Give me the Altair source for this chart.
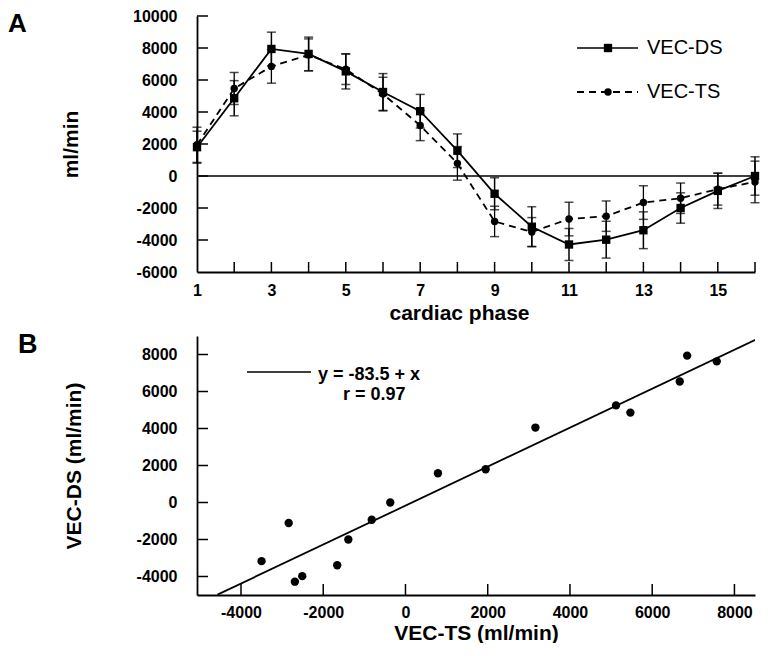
import altair as alt
import pandas as pd

# ---------------- data ----------------
phases = list(range(1, 17))
vec_ds = [1800, 4860, 7940, 7630, 6540, 5250, 4050, 1580, -1110, -3170, -4280, -3980, -3390, -2000, -930, 0]
vec_ts = [1950, 5470, 6850, 7570, 6670, 5120, 3160, 790, -2840, -3500, -2690, -2510, -1660, -1390, -820, -370]
sd_ds = [1000, 1100, 1050, 1050, 1100, 1150, 1050, 1050, 1000, 1250, 1000, 1150, 1150, 950, 1100, 1200]
sd_ts = [1100, 1000, 1050, 1000, 950, 1050, 950, 1050, 950, 900, 1050, 950, 1050, 950, 1000, 1300]

a_x_labels = [1, 3, 5, 7, 9, 11, 13, 15]
a_x_ticks = list(range(2, 17))
a_y_labels = [-6000, -4000, -2000, 0, 2000, 4000, 6000, 8000, 10000]
a_y_ticks = [-4000, -2000, 0, 2000, 4000, 6000, 8000, 10000]
zero_line = [0]

b_labels = [-4000, -2000, 0, 2000, 4000, 6000, 8000]
fit_x = [-4570, 8700]
fit_y = [-4980, 8990]
fit_text = ["y = -83.5 + x", "r = 0.97"]
series_names = ["VEC-DS", "VEC-TS"]
panel_labels = ["A", "B"]

FONT = "Liberation Sans"
W = 558
HA = 256
HB = 259

df = pd.DataFrame({
    "phase": phases, "ds": vec_ds, "ts": vec_ts,
    "ds_lo": [v - s for v, s in zip(vec_ds, sd_ds)],
    "ds_hi": [v + s for v, s in zip(vec_ds, sd_ds)],
    "ts_lo": [v - s for v, s in zip(vec_ts, sd_ts)],
    "ts_hi": [v + s for v, s in zip(vec_ts, sd_ts)],
})

label_expr = "'' + datum.value"

# ---------------- panel A ----------------
sx_a = alt.Scale(domain=[1, 16], nice=False, zero=False)
sy_a = alt.Scale(domain=[-6000, 10000], nice=False, zero=False)
ax_a_x = alt.Axis(values=a_x_labels, title="cardiac phase", titleX=262, titleY=47,
                  titleBaseline="alphabetic", titleAlign="center", labelPadding=10,
                  labelExpr=label_expr)
ax_a_y = alt.Axis(values=a_y_labels, title="ml/min", titleX=-120,
                  titleBaseline="alphabetic", labelPadding=20, labelExpr=label_expr)

def xa(field):
    return alt.X(field, type="quantitative", scale=sx_a, axis=ax_a_x)

def ya(field):
    return alt.Y(field, type="quantitative", scale=sy_a, axis=ax_a_y)

base_a = alt.Chart(df)

line_ds = base_a.mark_line(color="black", strokeWidth=1.8).encode(x=xa("phase"), y=ya("ds"))
line_ts = base_a.mark_line(color="black", strokeWidth=1.8, strokeDash=[7, 5]).encode(
    x=xa("phase"), y=ya("ts"))

err_ds = base_a.mark_rule(color="black", strokeWidth=1.5).encode(
    x=xa("phase"), y=ya("ds_lo"), y2="ds_hi")
err_ts = base_a.mark_rule(color="black", strokeWidth=1.3).encode(
    x=xa("phase"), y=ya("ts_lo"), y2="ts_hi")

caps = []
for f in ["ds_lo", "ds_hi", "ts_lo", "ts_hi"]:
    caps.append(base_a.mark_tick(color="black", orient="horizontal", size=9, thickness=1.5).encode(
        x=xa("phase"), y=ya(f)))

pts_ds = base_a.mark_point(shape="square", filled=True, size=70, color="black", opacity=1).encode(
    x=xa("phase"), y=ya("ds"))
pts_ts = base_a.mark_point(shape="circle", filled=True, size=55, color="black", opacity=1).encode(
    x=xa("phase"), y=ya("ts"))

zero_rule = alt.Chart(pd.DataFrame({"z": zero_line})).mark_rule(color="black", strokeWidth=1.5).encode(
    y=ya("z"))

ytick_a = alt.Chart(pd.DataFrame({"v": a_y_ticks})).mark_rule(color="black", strokeWidth=1.5).encode(
    y=ya("v"), x=alt.value(0), x2=alt.value(11))
xtick_a = alt.Chart(pd.DataFrame({"v": a_x_ticks})).mark_rule(color="black", strokeWidth=1.5).encode(
    x=xa("v"), y=alt.value(HA - 10), y2=alt.value(HA))

leg_df1 = pd.DataFrame({"label": [series_names[0]]})
leg_df2 = pd.DataFrame({"label": [series_names[1]]})
leg1_line = alt.Chart(leg_df1).mark_rule(color="black", strokeWidth=1.5).encode(
    x=alt.value(380), x2=alt.value(441), y=alt.value(32))
leg1_pt = alt.Chart(leg_df1).mark_point(shape="square", filled=True, size=70, color="black", opacity=1).encode(
    x=alt.value(411), y=alt.value(32))
leg1_txt = alt.Chart(leg_df1).mark_text(align="left", baseline="middle", fontSize=20, font=FONT, color="black").encode(
    x=alt.value(450), y=alt.value(32), text="label:N")
leg2_line = alt.Chart(leg_df2).mark_rule(color="black", strokeWidth=1.8, strokeDash=[7, 5]).encode(
    x=alt.value(380), x2=alt.value(441), y=alt.value(76))
leg2_pt = alt.Chart(leg_df2).mark_point(shape="circle", filled=True, size=55, color="black", opacity=1).encode(
    x=alt.value(411), y=alt.value(76))
leg2_txt = alt.Chart(leg_df2).mark_text(align="left", baseline="middle", fontSize=20, font=FONT, color="black").encode(
    x=alt.value(450), y=alt.value(76), text="label:N")

lab_a = alt.Chart(pd.DataFrame({"t": [panel_labels[0]]})).mark_text(
    align="left", baseline="alphabetic", fontSize=26, fontWeight="bold", font=FONT, color="black").encode(
    x=alt.value(-189), y=alt.value(16), text="t:N")

panel_a = alt.layer(
    line_ds, zero_rule, ytick_a, xtick_a, line_ts, err_ds, err_ts, *caps, pts_ds, pts_ts,
    leg1_line, leg1_pt, leg1_txt, leg2_line, leg2_pt, leg2_txt, lab_a
).properties(width=W, height=HA)

# ---------------- panel B ----------------
sx_b = alt.Scale(domain=[-5070, 8500], nice=False, zero=False)
sy_b = alt.Scale(domain=[-5000, 9000], nice=False, zero=False)
ax_b_x = alt.Axis(values=b_labels, title="VEC-TS (ml/min)", titleY=44,
                  titleBaseline="alphabetic", labelPadding=9, labelExpr=label_expr)
ax_b_y = alt.Axis(values=b_labels, title="VEC-DS (ml/min)", titleX=-117,
                  titleBaseline="alphabetic", labelPadding=20, labelExpr=label_expr)

def xb(field):
    return alt.X(field, type="quantitative", scale=sx_b, axis=ax_b_x)

def yb(field):
    return alt.Y(field, type="quantitative", scale=sy_b, axis=ax_b_y)

scatter = alt.Chart(df).mark_point(shape="circle", filled=True, size=70, color="black", opacity=1).encode(
    x=xb("ts"), y=yb("ds"))
fit = alt.Chart(pd.DataFrame({"fx": fit_x, "fy": fit_y})).mark_line(
    color="black", strokeWidth=1.8, clip=True).encode(x=xb("fx"), y=yb("fy"))

ytick_b = alt.Chart(pd.DataFrame({"v": b_labels})).mark_rule(color="black", strokeWidth=1.5).encode(
    y=yb("v"), x=alt.value(0), x2=alt.value(11))
xtick_b = alt.Chart(pd.DataFrame({"v": b_labels})).mark_rule(color="black", strokeWidth=1.5).encode(
    x=xb("v"), y=alt.value(HB - 11), y2=alt.value(HB))

fit_df1 = pd.DataFrame({"t": [fit_text[0]]})
fit_df2 = pd.DataFrame({"t": [fit_text[1]]})
legb_line = alt.Chart(fit_df1).mark_rule(color="black", strokeWidth=1.3).encode(
    x=alt.value(50), x2=alt.value(114), y=alt.value(36))
legb_t1 = alt.Chart(fit_df1).mark_text(align="left", baseline="alphabetic", fontSize=18, fontWeight="bold",
                                        font=FONT, color="black").encode(
    x=alt.value(121), y=alt.value(44), text="t:N")
legb_t2 = alt.Chart(fit_df2).mark_text(align="left", baseline="alphabetic", fontSize=18, fontWeight="bold",
                                        font=FONT, color="black").encode(
    x=alt.value(146), y=alt.value(64), text="t:N")

lab_b = alt.Chart(pd.DataFrame({"t": [panel_labels[1]]})).mark_text(
    align="left", baseline="alphabetic", fontSize=27, fontWeight="bold", font=FONT, color="black").encode(
    x=alt.value(-179), y=alt.value(17), text="t:N")

panel_b = alt.layer(
    scatter, fit, ytick_b, xtick_b, legb_line, legb_t1, legb_t2, lab_b
).properties(width=W, height=HB)

chart = alt.vconcat(panel_a, panel_b, spacing=8).properties(
    padding={"left": 0, "top": 0, "right": 0, "bottom": 0},
    background="white",
).configure_axis(
    domainColor="black", domainWidth=1.8, ticks=False, grid=False,
    labelFont=FONT, labelFontSize=16, labelFontWeight="bold", labelColor="black",
    labelFlush=False, labelOverlap=False,
    titleFont=FONT, titleFontSize=21, titleFontWeight="bold", titleColor="black",
).configure_view(strokeWidth=0)

chart.save("out.html", embed_options={"renderer": "svg", "actions": False})
